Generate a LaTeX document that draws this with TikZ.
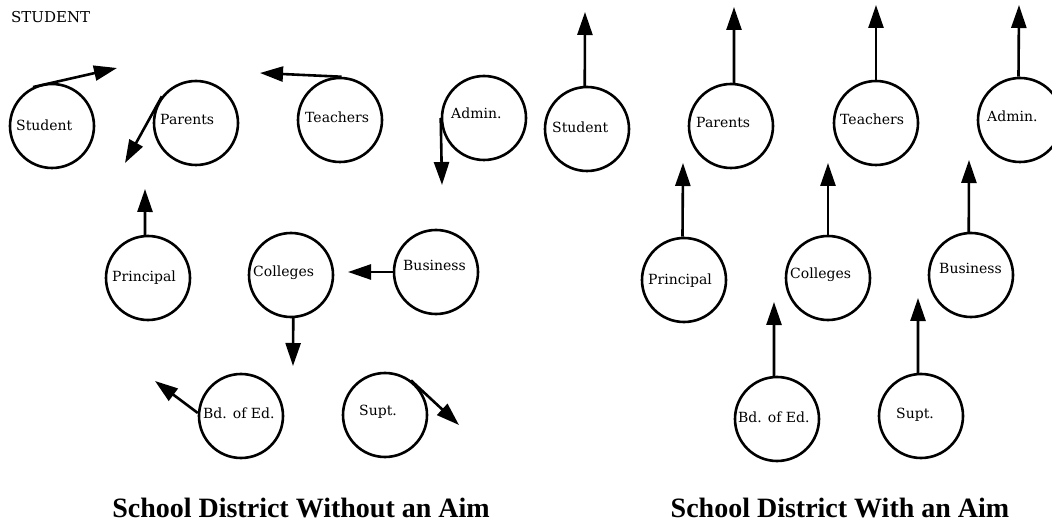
\documentclass[tikz,border=0pt]{standalone}
\usepackage{fontspec}
\setmainfont{DejaVu Serif}
\newfontfamily\titlefont{Liberation Serif}
\usetikzlibrary{arrows.meta}
\begin{document}
\begin{tikzpicture}[x=1pt,y=-1pt,
  circ/.style={circle,draw,line width=2.6pt,minimum size=84pt,inner sep=0pt},
  lab/.style={font=\fontsize{14}{16}\selectfont,inner sep=0pt,anchor=base west},
  arr/.style={line width=2.6pt,-{Triangle[length=23pt,width=15pt]}},
  ttl/.style={font=\titlefont\bfseries\fontsize{28}{32}\selectfont,inner sep=0pt,anchor=base}]
\path[use as bounding box,clip] (0,0) rectangle (1052,521);

% heading
\node[font=\fontsize{15}{17}\selectfont,inner sep=0pt,anchor=base west] (hd) at (11,23) {STUDENT};

% ---------- left panel: without an aim ----------
\node[circ] (stuL) at (52,126) {};
\node[lab] (tstuL) at (16,131) {Student};
\node[circ] (parL) at (196,123) {};
\node[lab] (tparL) at (160,125) {Parents};
\node[circ] (teaL) at (340,120) {};
\node[lab] (tteaL) at (305,123) {Teachers};
\node[circ] (admL) at (484,118) {};
\node[lab] (tadmL) at (451,119) {Admin.};
\node[circ] (priL) at (148,278) {};
\node[lab] (tpriL) at (112,282) {Principal};
\node[circ] (colL) at (291,275) {};
\node[lab] (tcolL) at (253,277) {Colleges};
\node[circ] (busL) at (436,272) {};
\node[lab] (tbusL) at (403,271) {Business};
\node[circ] (bdL) at (241,416) {};
\node[lab] (tbdL) at (203,418) {Bd. of Ed.};
\node[circ] (supL) at (385,415) {};
\node[lab] (tsupL) at (359,415) {Supt.};

\coordinate (eStuL) at (117,68);
\coordinate (eParL) at (125,163);
\coordinate (eTeaL) at (260,73);
\coordinate (eAdmL) at (442,185);
\coordinate (ePriL) at (145,189);
\coordinate (eColL) at (293,366);
\coordinate (eBusL) at (348,272);
\coordinate (eBdL) at (155,381);
\coordinate (eSupL) at (459,425);

\draw[arr] (stuL.116) -- (eStuL);
\draw[arr] (parL.142) -- (eParL);
\draw[arr] (teaL.88) -- (eTeaL);
\draw[arr] (admL.west) -- (eAdmL);
\draw[arr] (priL.94) -- (ePriL);
\draw[arr] (colL.-87) -- (eColL);
\draw[arr] (busL.west) -- (eBusL);
\draw[arr] (bdL.176) -- (eBdL);
\draw[arr] (supL.53) -- (eSupL);

% ---------- right panel: with an aim ----------
\node[circ] (stuR) at (587,129) {};
\node[lab] (tstuR) at (552,133) {Student};
\node[circ] (parR) at (731,126) {};
\node[lab] (tparR) at (696,128) {Parents};
\node[circ] (teaR) at (876,123) {};
\node[lab] (tteaR) at (840,125) {Teachers};
\node[circ] (admR) at (1020,120) {};
\node[lab] (tadmR) at (987,122) {Admin.};
\node[circ] (priR) at (684,280) {};
\node[lab] (tpriR) at (648,285) {Principal};
\node[circ] (colR) at (828,278) {};
\node[lab] (tcolR) at (790,279) {Colleges};
\node[circ] (busR) at (971,275) {};
\node[lab] (tbusR) at (939,274) {Business};
\node[circ] (bdR) at (777,419) {};
\node[lab] (tbdR) at (738,422) {Bd. of Ed.};
\node[circ] (supR) at (921,416) {};
\node[lab] (tsupR) at (896,418) {Supt.};

\coordinate (eStuR) at (585,12);
\coordinate (eParR) at (734,7);
\coordinate (eTeaR) at (876,5);
\coordinate (eAdmR) at (1019,5);
\coordinate (ePriR) at (683,163);
\coordinate (eColR) at (828,163);
\coordinate (eBusR) at (969,160);
\coordinate (eBdR) at (774,302);
\coordinate (eSupR) at (918,298);

\draw[arr] (stuR.93) -- (eStuR);
\draw[arr] (parR.86) -- (eParR);
\draw[arr] (teaR.north) -- (eTeaR);
\draw[arr] (admR.92) -- (eAdmR);
\draw[arr] (priR.92) -- (ePriR);
\draw[arr] (colR.north) -- (eColR);
\draw[arr] (busR.93) -- (eBusR);
\draw[arr] (bdR.94) -- (eBdR);
\draw[arr] (supR.94) -- (eSupR);

% titles
\node[ttl] (t1) at (301,517) {School District Without an Aim};
\node[ttl] (t2) at (840,517) {School District With an Aim};
\end{tikzpicture}
\end{document}
